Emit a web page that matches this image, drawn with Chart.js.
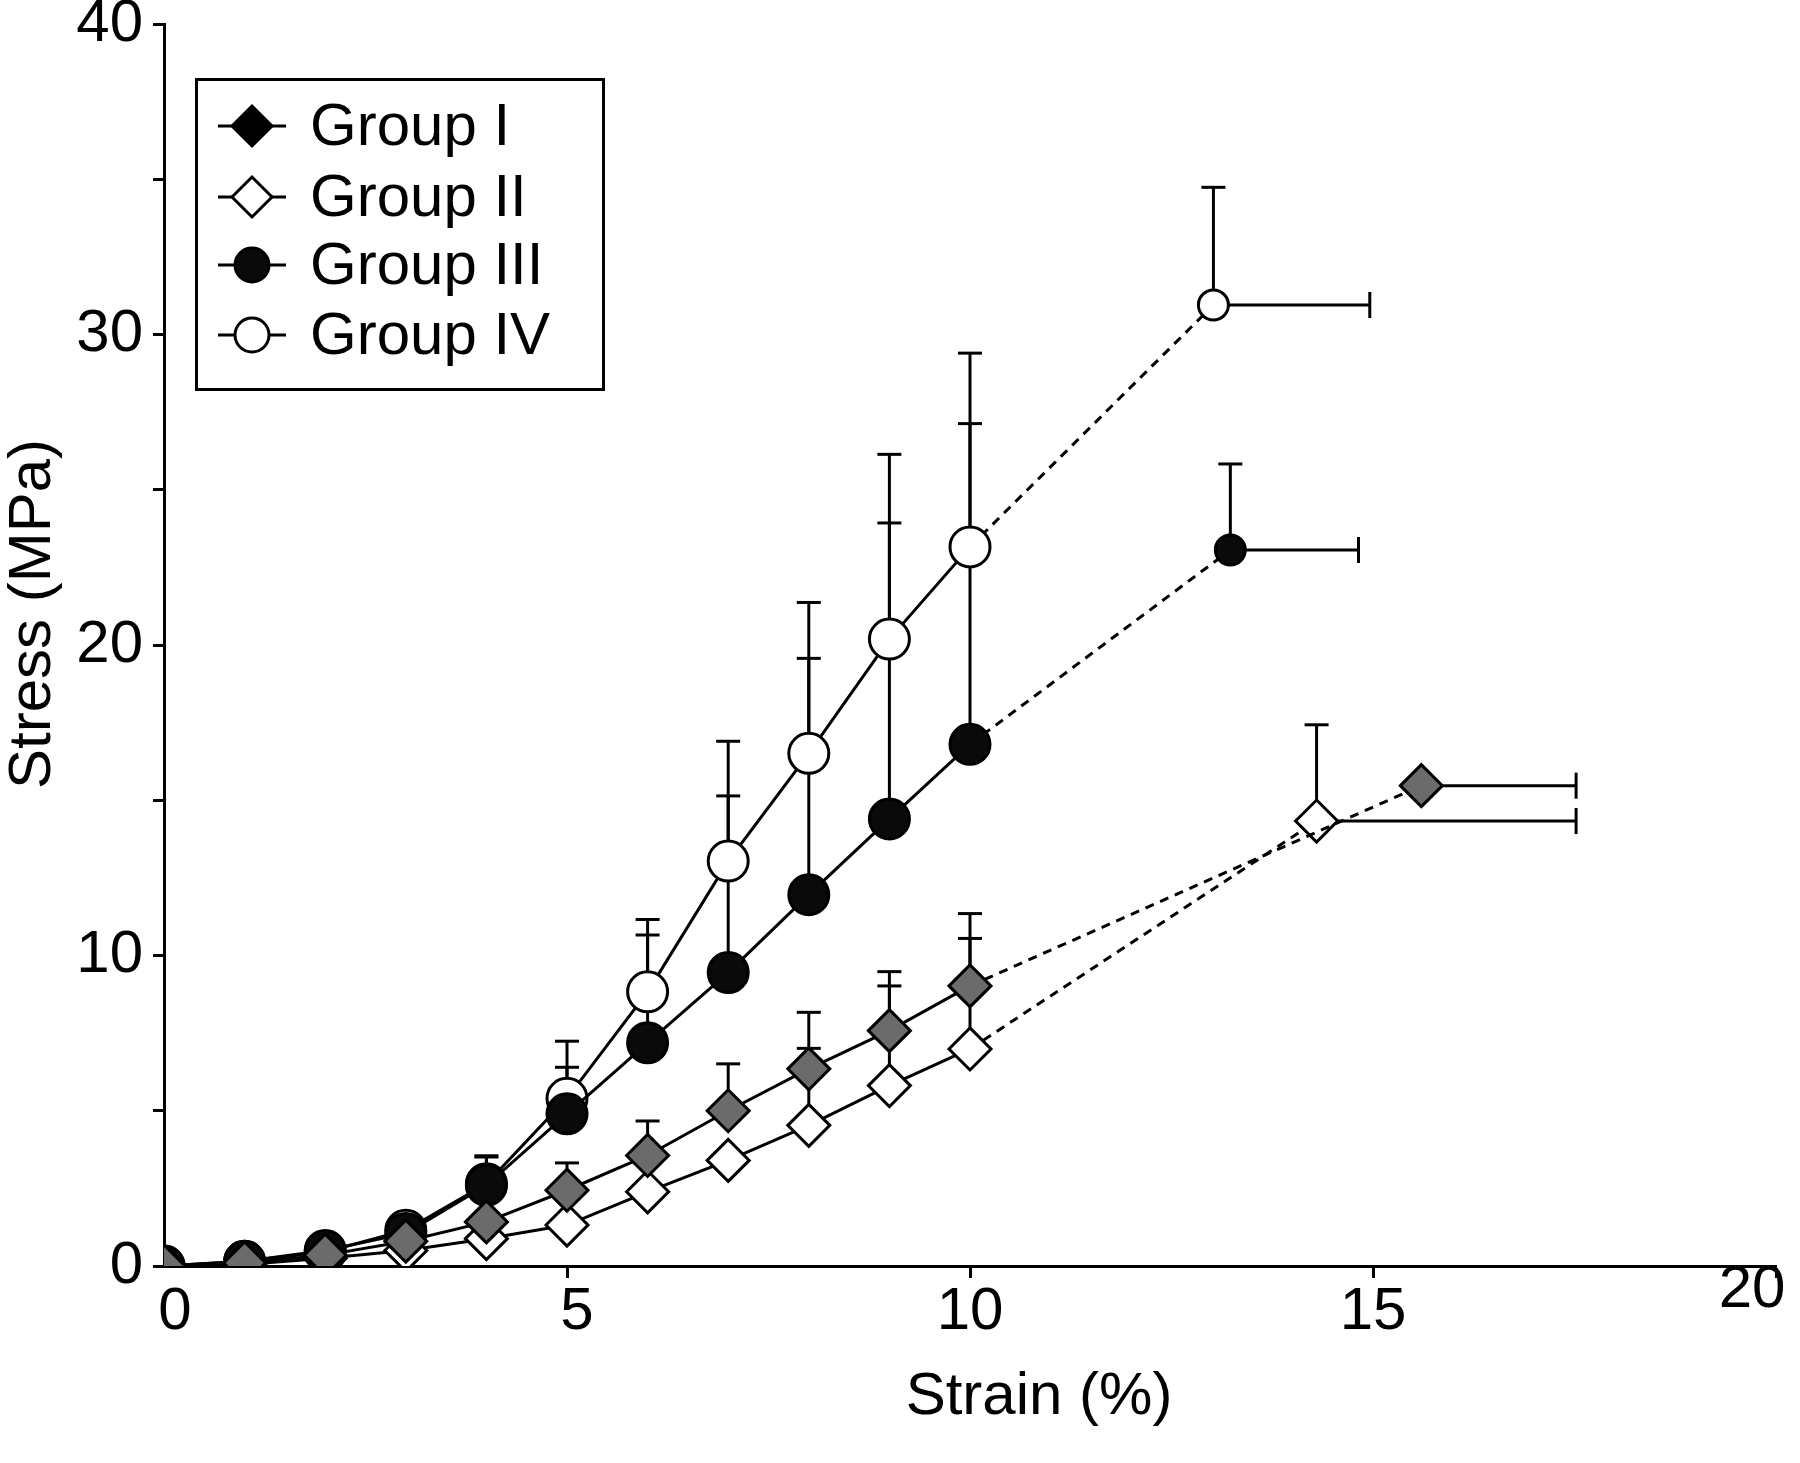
<!DOCTYPE html>
<html>
<head>
<meta charset="utf-8">
<script src="https://cdn.jsdelivr.net/npm/chart.js@4.4.1/dist/chart.umd.min.js"></script>
<style>
html,body{margin:0;padding:0;background:#fff;}
#wrap{width:1800px;height:1463px;position:relative;}
canvas{display:block;}
</style>
</head>
<body>
<div id="wrap"><canvas id="c" width="1800" height="1463"></canvas></div>
<script>
// ---------- data ----------
const seriesNames = ['Group I', 'Group II', 'Group III', 'Group IV'];

const strainI   = [0, 1, 2, 3, 4, 5, 6, 7, 8, 9, 10, 15.6];
const stressI   = [0, 0.1, 0.35, 0.8, 1.42, 2.44, 3.56, 5.0, 6.35, 7.58, 9.02, 15.47];
const errYI     = [0, 0, 0, 0, 0, 0.88, 1.11, 1.51, 1.82, 1.9, 2.33, 0];
const errXI     = [0, 0, 0, 0, 0, 0, 0, 0, 0, 0, 0, 1.92];

const strainII  = [0, 1, 2, 3, 4, 5, 6, 7, 8, 9, 10, 14.3];
const stressII  = [0, 0.05, 0.25, 0.5, 0.88, 1.32, 2.39, 3.4, 4.53, 5.81, 6.99, 14.33];
const errYII    = [0, 0, 0, 0, 0, 0, 0, 0, 2.48, 3.21, 3.56, 3.1];
const errXII    = [0, 0, 0, 0, 0, 0, 0, 0, 0, 0, 0, 3.22];

const strainIII = [0, 1, 2, 3, 4, 5, 6, 7, 8, 9, 10, 13.23];
const stressIII = [0, 0.15, 0.5, 1.05, 2.6, 4.9, 7.19, 9.45, 11.96, 14.4, 16.8, 23.06];
const errYIII   = [0, 0, 0, 0, 0.91, 1.5, 3.47, 5.69, 7.61, 9.53, 10.33, 2.77];
const errXIII   = [0, 0, 0, 0, 0, 0, 0, 0, 0, 0, 0, 1.59];

const strainIV  = [0, 1, 2, 3, 4, 5, 6, 7, 8, 9, 10, 13.02];
const stressIV  = [0, 0.15, 0.45, 1.15, 2.65, 5.4, 8.83, 13.04, 16.51, 20.19, 23.16, 30.95];
const errYIV    = [0, 0, 0, 0, 0.9, 1.84, 2.33, 3.86, 4.86, 5.95, 6.24, 3.79];
const errXIV    = [0, 0, 0, 0, 0, 0, 0, 0, 0, 0, 0, 1.94];

const xTickValues = [0, 5, 10, 15, 20];
const xTickLabels = ['0', '5', '10', '15', '20'];
const yTickValues = [0, 5, 10, 15, 20, 25, 30, 35, 40];
const yTickLabels = ['0', '', '10', '', '20', '', '30', '', '40'];

const xTitle = 'Strain (%)';
const yTitle = 'Stress (MPa)';

// ---------- styling ----------
const FONT = '"Liberation Sans", Arial, Helvetica, sans-serif';
const FS = 60;

function mkDataset(label, xs, ys, errY, errX, style, fill, rMain, rEnd) {
  const last = xs.length - 1;
  return {
    label: label,
    data: xs.map((x, i) => ({x: x, y: ys[i]})),
    errY: errY, errX: errX,
    markerStyle: style,
    borderColor: '#000', borderWidth: 3,
    backgroundColor: fill,
    pointStyle: style,
    pointBackgroundColor: fill,
    pointBorderColor: '#000',
    pointBorderWidth: 3,
    pointRadius: c => (c.dataIndex === last ? rEnd : rMain),
    pointHoverRadius: c => (c.dataIndex === last ? rEnd : rMain),
    fill: false, tension: 0,
    segment: { borderDash: c => (c.p1DataIndex === last ? [9, 7] : undefined) }
  };
}

const datasets = [
  mkDataset(seriesNames[0], strainI, stressI, errYI, errXI, 'rectRot', '#6b6b6b', 21, 21),
  mkDataset(seriesNames[1], strainII, stressII, errYII, errXII, 'rectRot', '#ffffff', 21, 21),
  mkDataset(seriesNames[2], strainIII, stressIII, errYIII, errXIII, 'circle', '#0a0a0a', 20, 15),
  mkDataset(seriesNames[3], strainIV, stressIV, errYIV, errXIV, 'circle', '#ffffff', 20, 15)
];

// ---------- plugins ----------
const errorBars = {
  id: 'errorBars',
  beforeDatasetsDraw(chart) {
    const ctx = chart.ctx, xs = chart.scales.x, ys = chart.scales.y;
    ctx.save();
    ctx.strokeStyle = '#000';
    ctx.lineWidth = 3;
    const ln = (a, b, c, d) => { ctx.beginPath(); ctx.moveTo(a, b); ctx.lineTo(c, d); ctx.stroke(); };
    chart.data.datasets.forEach(ds => {
      ds.data.forEach((p, i) => {
        const px = xs.getPixelForValue(p.x), py = ys.getPixelForValue(p.y);
        const ey = ds.errY[i] || 0, ex = ds.errX[i] || 0;
        if (ey > 0) {
          const ty = ys.getPixelForValue(p.y + ey);
          ln(px, py, px, ty); ln(px - 12, ty, px + 12, ty);
        }
        if (ex > 0) {
          const tx = xs.getPixelForValue(p.x + ex);
          ln(px, py, tx, py); ln(tx, py - 13, tx, py + 13);
        }
      });
    });
    ctx.restore();
  }
};

function marker(ctx, style, fill, x, y, r) {
  ctx.beginPath();
  if (style === 'circle') {
    ctx.arc(x, y, r, 0, Math.PI * 2);
  } else {
    ctx.moveTo(x - r, y); ctx.lineTo(x, y - r); ctx.lineTo(x + r, y); ctx.lineTo(x, y + r); ctx.closePath();
  }
  ctx.fillStyle = fill; ctx.fill();
  ctx.lineWidth = 3; ctx.strokeStyle = '#000'; ctx.stroke();
}

const boxLegend = {
  id: 'boxLegend',
  afterDraw(chart) {
    const ctx = chart.ctx;
    ctx.save();
    ctx.fillStyle = '#fff';
    ctx.fillRect(196, 79, 408, 311);
    ctx.lineWidth = 3; ctx.strokeStyle = '#000';
    ctx.strokeRect(196.5, 79.5, 407, 310);
    const rows = [126, 197, 265, 335];
    const legendFill = ['#000000', '#ffffff', '#0a0a0a', '#ffffff'];
    chart.data.datasets.forEach((ds, i) => {
      const y = rows[i];
      ctx.beginPath(); ctx.moveTo(218, y); ctx.lineTo(286, y);
      ctx.lineWidth = 3; ctx.strokeStyle = '#000'; ctx.stroke();
      marker(ctx, ds.markerStyle, legendFill[i], 252, y, ds.markerStyle === 'circle' ? 17 : 20);
      ctx.fillStyle = '#000';
      ctx.font = FS + 'px ' + FONT;
      ctx.textBaseline = 'middle'; ctx.textAlign = 'left';
      ctx.fillText(ds.label, 310, y + 2);
    });
    ctx.restore();
  }
};

const axisTitles = {
  id: 'axisTitles',
  afterDraw(chart) {
    const ctx = chart.ctx;
    ctx.save();
    ctx.fillStyle = '#000';
    ctx.font = FS + 'px ' + FONT;
    ctx.textAlign = 'center'; ctx.textBaseline = 'middle';
    ctx.fillText(xTitle, 1039, 1397);
    ctx.translate(33, 614);
    ctx.rotate(-Math.PI / 2);
    ctx.fillText(yTitle, 0, 0);
    ctx.restore();
  }
};

// small per-label nudges of the x tick labels, as in the original figure
const xLabelNudge = [[11, 0], [10, 0], [0, 0], [0, 0], [-24, -22]];
const labelNudge = {
  id: 'labelNudge',
  beforeDraw(chart) {
    const s = chart.scales.x;
    const items = s.getLabelItems(chart.chartArea);
    items.forEach((it, i) => {
      const n = xLabelNudge[i];
      if (n && !it._nudged) {
        it.options.translation = [it.options.translation[0] + n[0], it.options.translation[1] + n[1]];
        it._nudged = true;
      }
    });
  }
};

const tickFont = {family: FONT, size: FS, lineHeight: 1};

new Chart(document.getElementById('c'), {
  type: 'line',
  data: { datasets: datasets },
  options: {
    responsive: false,
    animation: false,
    devicePixelRatio: 1,
    events: [],
    layout: { padding: 0 },
    plugins: { legend: { display: false }, tooltip: { enabled: false } },
    scales: {
      x: {
        type: 'linear', min: 0, max: 20,
        afterBuildTicks: s => { s.ticks = xTickValues.map(v => ({value: v})); },
        afterFit: s => { s.height = 197; s.paddingLeft = 0; s.paddingRight = 12; },
        ticks: { callback: (v, i) => xTickLabels[i], font: tickFont, color: '#000', padding: 4, maxRotation: 0, autoSkip: false },
        grid: { drawOnChartArea: false, drawTicks: true, tickLength: 12, tickWidth: 3,
                tickColor: c => (c.tick && c.tick.value === 0 ? 'rgba(0,0,0,0)' : '#000') },
        border: { display: true, color: '#000', width: 3 },
        title: { display: false }
      },
      y: {
        type: 'linear', min: 0, max: 40,
        afterBuildTicks: s => { s.ticks = yTickValues.map(v => ({value: v})); },
        afterFit: s => { s.width = 164; s.paddingTop = 20; s.paddingBottom = 0; },
        ticks: { callback: (v, i) => yTickLabels[i], font: tickFont, color: '#000', padding: 10, autoSkip: false },
        grid: { drawOnChartArea: false, drawTicks: true, tickLength: 11, tickWidth: 3, tickColor: '#000' },
        border: { display: true, color: '#000', width: 3 },
        title: { display: false }
      }
    }
  },
  plugins: [errorBars, boxLegend, axisTitles, labelNudge]
});
</script>
</body>
</html>
